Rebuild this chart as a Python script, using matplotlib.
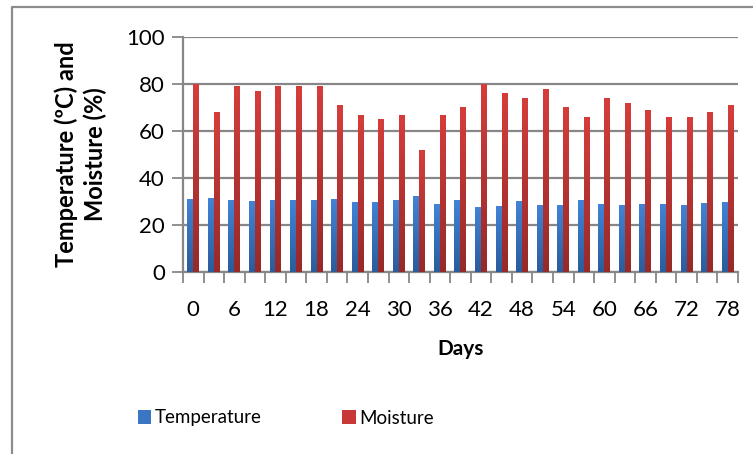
import numpy as np
import matplotlib.pyplot as plt
from matplotlib.patches import Patch
from matplotlib.lines import Line2D
from matplotlib.colors import LinearSegmentedColormap

plt.rcParams['font.family'] = ['Lato', 'DejaVu Sans']

days = list(range(0, 79, 3))
temperature = [31, 31.5, 30.6, 30.2, 30.6, 30.6, 30.6, 31, 29.8, 29.8, 30.6, 32.3, 28.9, 30.6,
               27.6, 28.1, 30.2, 28.5, 28.5, 30.6, 28.9, 28.5, 28.9, 28.9, 28.5, 29.3, 29.8]
moisture = [80, 68, 79, 77, 79, 79, 79, 71, 67, 65, 67, 52, 67, 70,
            80, 76, 74, 78, 70, 66, 74, 72, 69, 66, 66, 68, 71]
yticks = [0, 20, 40, 60, 80, 100]

blue_cmap = LinearSegmentedColormap.from_list('blue', ['#2b5c9c', '#4283d6'])
red_cmap = LinearSegmentedColormap.from_list('red', ['#962a29', '#d53d3b'])

fig = plt.figure(figsize=(7.53, 4.54), dpi=100)
ax = fig.add_axes([0.243, 0.401, 0.737, 0.5175])

x = np.arange(len(days))
w = 0.29
grad = np.linspace(0, 1, 64).reshape(-1, 1)


def gradient_bars(xs, vals, cmap):
    bars = ax.bar(xs, vals, width=w, facecolor='none', edgecolor='none', zorder=3)
    for b in bars:
        x0, y0 = b.get_x(), b.get_y()
        im = ax.imshow(grad, cmap=cmap, origin='lower', aspect='auto',
                       extent=[x0, x0 + b.get_width(), y0, y0 + b.get_height()],
                       zorder=3)
        im.set_clip_path(b)
    return bars


gradient_bars(x - w / 2, temperature, blue_cmap)
gradient_bars(x + w / 2, moisture, red_cmap)

ax.set_xlim(-0.5, len(days) - 0.5)
ax.set_ylim(0, 100)

grid_c = '#878787'
ax.set_yticks(yticks)
ax.yaxis.grid(True, color=grid_c, linewidth=1.6, zorder=1)
ax.set_axisbelow(True)
ax.tick_params(axis='y', direction='out', length=8, width=1.3, color=grid_c,
               labelsize=16, pad=5)

ax.set_xticks(x[::2])
ax.set_xticklabels([str(d) for d in days[::2]])
ax.set_xticks(np.arange(-0.5, len(days)), minor=True)
ax.tick_params(axis='x', which='major', length=0, labelsize=16, pad=20)
ax.tick_params(axis='x', which='minor', direction='out', length=8, width=1.3, color=grid_c)

for s in ['top', 'right']:
    ax.spines[s].set_visible(False)
for s in ['left', 'bottom']:
    ax.spines[s].set_color(grid_c)
    ax.spines[s].set_linewidth(1.6)

ax.set_xlabel('Days', fontsize=15, fontweight='bold', labelpad=14)
ax.set_ylabel('Temperature (ºC) and\nMoisture (%)', fontsize=17, fontweight='bold',
              labelpad=14, linespacing=1.25)

# outer chart frame
frame_c = '#8c8c8c'
fig.add_artist(Line2D([12 / 753, 12 / 753, 1.0], [0, 1 - 7 / 454, 1 - 7 / 454],
                      transform=fig.transFigure, color=frame_c, linewidth=1.6))

handles = [Patch(facecolor='#3a76c4', label='Temperature'),
           Patch(facecolor='#c83836', label='Moisture')]
fig.legend(handles=handles, loc='center', bbox_to_anchor=(286 / 753, 1 - 418 / 454),
           ncol=2, frameon=False, fontsize=13.5, handlelength=0.7, handleheight=0.7,
           handletextpad=0.2, columnspacing=4.3)

fig.savefig('out.png', dpi=100)
